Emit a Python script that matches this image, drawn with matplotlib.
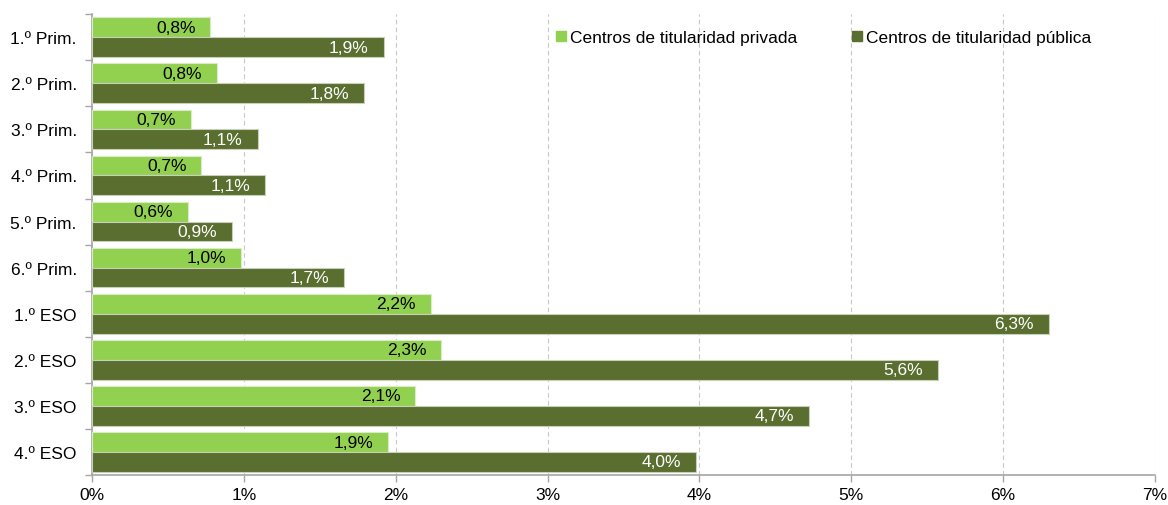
import matplotlib
matplotlib.use("Agg")
import matplotlib.pyplot as plt
import numpy as np
from matplotlib.lines import Line2D

categories = ["1.º Prim.", "2.º Prim.", "3.º Prim.", "4.º Prim.", "5.º Prim.", "6.º Prim.",
              "1.º ESO", "2.º ESO", "3.º ESO", "4.º ESO"]
privada = [0.78, 0.82, 0.65, 0.72, 0.63, 0.98, 2.23, 2.30, 2.13, 1.95]
publica = [1.92, 1.79, 1.09, 1.14, 0.92, 1.66, 6.30, 5.57, 4.72, 3.98]
privada_labels = ["0,8%", "0,8%", "0,7%", "0,7%", "0,6%", "1,0%", "2,2%", "2,3%", "2,1%", "1,9%"]
publica_labels = ["1,9%", "1,8%", "1,1%", "1,1%", "0,9%", "1,7%", "6,3%", "5,6%", "4,7%", "4,0%"]
xticks = [0, 1, 2, 3, 4, 5, 6, 7]
xticklabels = ["0%", "1%", "2%", "3%", "4%", "5%", "6%", "7%"]
series_names = ["Centros de titularidad privada", "Centros de titularidad pública"]

c_priv = "#92d050"
c_pub = "#5a6e2f"
fs = 12.5

plt.rcParams["font.family"] = ["Liberation Sans", "DejaVu Sans"]
fig = plt.figure(figsize=(11.68, 5.06), dpi=100)
ax = fig.add_axes([0.0788, 0.0593, 0.9101, 0.9107])

n = len(categories)
y = np.arange(n)
h = 0.43
ax.barh(y - h / 2, privada, height=h, color=c_priv, edgecolor="#d9ecc4", linewidth=0.8, zorder=3)
ax.barh(y + h / 2, publica, height=h, color=c_pub, edgecolor="#c8d0b8", linewidth=0.8, zorder=3)

for i in range(n):
    ax.annotate(privada_labels[i], (privada[i], y[i] - h / 2), xytext=(-15, 0),
                textcoords="offset pixels", ha="right", va="center", fontsize=fs,
                color="black", zorder=4)
    ax.annotate(publica_labels[i], (publica[i], y[i] + h / 2), xytext=(-15, 0),
                textcoords="offset pixels", ha="right", va="center", fontsize=fs,
                color="white", zorder=4)

ax.set_ylim(n - 0.5, -0.5)
ax.set_xlim(0, 7)
ax.set_xticks(xticks)
ax.set_xticklabels(xticklabels, fontsize=fs)
ax.set_yticks(y)
ax.set_yticklabels(categories, fontsize=fs)
ax.tick_params(axis="y", length=0, pad=11)
ax.set_yticks(np.arange(n + 1) - 0.5, minor=True)
ax.tick_params(axis="y", which="minor", length=5, color="#a6a6a6", width=1)
ax.tick_params(axis="x", length=5, color="#a6a6a6", width=1, pad=4)

ax.grid(axis="x", linestyle=(0, (4, 3)), color="#c8c8c8", linewidth=0.8, zorder=0)
ax.set_axisbelow(True)
for s in ["top", "right"]:
    ax.spines[s].set_visible(False)
for s in ["left", "bottom"]:
    ax.spines[s].set_color("#a6a6a6")
    ax.spines[s].set_linewidth(1.2)

handles = [Line2D([], [], marker="s", linestyle="none", markersize=6.5, color=c_priv),
           Line2D([], [], marker="s", linestyle="none", markersize=6.5, color=c_pub)]
ax.legend(handles, series_names, ncol=2, loc="center", bbox_to_anchor=(0.687, 0.95),
          frameon=False, fontsize=fs, handletextpad=0.05, columnspacing=3.0,
          handlelength=0.9)

fig.savefig("out.png", dpi=100, facecolor="white")
